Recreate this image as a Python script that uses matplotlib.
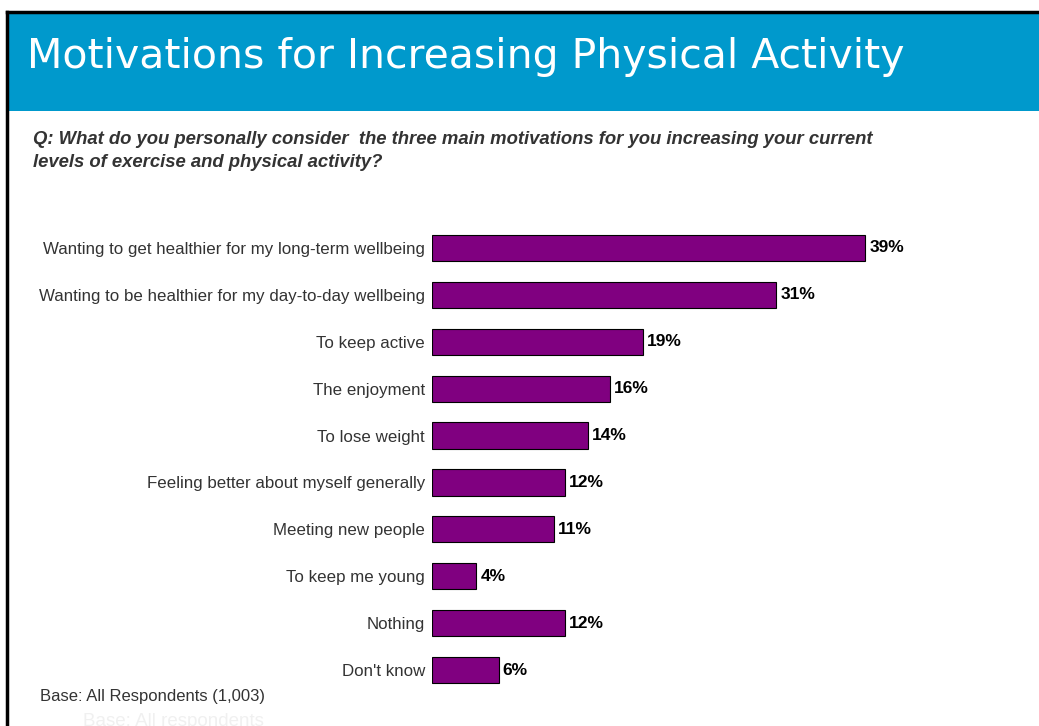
import matplotlib.pyplot as plt
from matplotlib.patches import Rectangle

plt.rcParams['font.family'] = ['Liberation Sans', 'DejaVu Sans']

categories = [
    "Wanting to get healthier for my long-term wellbeing",
    "Wanting to be healthier for my day-to-day wellbeing",
    "To keep active",
    "The enjoyment",
    "To lose weight",
    "Feeling better about myself generally",
    "Meeting new people",
    "To keep me young",
    "Nothing",
    "Don't know",
]
percentages = [39, 31, 19, 16, 14, 12, 11, 4, 12, 6]

title = "Motivations for Increasing Physical Activity"
question = ("Q: What do you personally consider  the three main motivations for you increasing your current\n"
            "levels of exercise and physical activity?")
base_note = "Base: All Respondents (1,003)"

W, H = 1039, 726
fig = plt.figure(figsize=(W / 100, H / 100), dpi=100)
fig.patch.set_facecolor('white')

# header band and slide frame
fig.patches.append(Rectangle((7 / W, 1 - 111 / H), 1, 99 / H, transform=fig.transFigure,
                             facecolor='#0099CC', edgecolor='none', zorder=0))
fig.add_artist(plt.Line2D([7 / W, 1], [1 - 12 / H, 1 - 12 / H], color='black', lw=2.5))
fig.add_artist(plt.Line2D([7 / W, 7 / W], [0, 1 - 12 / H], color='black', lw=2.5))

fig.text(27 / W, 1 - 57 / H, title, color='white', fontsize=29.5, va='center', ha='left',
         family='DejaVu Sans')
fig.text(33 / W, 1 - 151 / H, question, color='#333333', fontsize=13.3, fontweight='bold',
         fontstyle='italic', va='center', ha='left', linespacing=1.45)
fig.text(40 / W, 1 - 697 / H, base_note, color='#333333', fontsize=12, va='center', ha='left')
fig.text(83 / W, 1 - 721 / H, "Base: All respondents", color='#f0f0f0', fontsize=13.5,
         va='center', ha='left')

ax = fig.add_axes([432 / W, 32.5 / H, 500 / W, 469 / H])
ypos = list(range(len(categories)))
ax.barh(ypos, percentages, height=0.56, color='#800080', edgecolor='black', linewidth=0.8)
ax.set_xlim(0, 45)
ax.set_ylim(len(categories) - 0.5, -0.5)
for y, v in zip(ypos, percentages):
    ax.text(v + 0.35, y, f"{v}%", va='center', ha='left', fontsize=12.5, fontweight='bold',
            color='black')
ax.set_yticks(ypos)
ax.set_yticklabels(categories, fontsize=12.2, color='#333333')
ax.tick_params(axis='y', length=0, pad=5)
ax.set_xticks([])
for s in ax.spines.values():
    s.set_visible(False)
ax.patch.set_alpha(0)

fig.savefig('out.png', dpi=100)
